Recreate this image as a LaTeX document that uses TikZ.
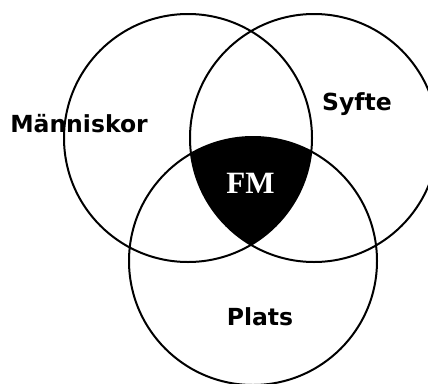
\documentclass[tikz,border=0pt]{standalone}
\usepackage{fontspec}
\usepackage{tikz}
\usetikzlibrary{positioning}
\newfontfamily\vennfont{DejaVu Sans}
\newfontfamily\fmfont{Liberation Serif}

\begin{document}
\begin{tikzpicture}[x=1pt, y=-1pt,
      ring/.style={draw, line width=2pt},
      lbl/.style={anchor=base, inner sep=0pt, font=\vennfont\bfseries\fontsize{23.5}{27}\selectfont}]
    \useasboundingbox (0,0) rectangle (428,383);
    \clip (0,0) rectangle (428,383);
    \coordinate (cM) at (188,138);
    \coordinate (cS) at (314,138);
    \coordinate (cP) at (253,261);
    % common part of the three circles
    \begin{scope}
      \clip (cM) circle[radius=124pt];
      \clip (cS) circle[radius=124pt];
      \fill[black] (cP) circle[radius=124pt];
    \end{scope}
    \draw[ring] (cM) circle[radius=124pt];
    \draw[ring] (cS) circle[radius=124pt];
    \draw[ring] (cP) circle[radius=124pt];
    \node[lbl] (manniskor) at (79,132) {Människor};
    \node[lbl] (syfte) at (357,110) {Syfte};
    \node[lbl] (plats) at (260,325) {Plats};
    \node[anchor=base, inner sep=0pt, text=white, font=\fmfont\bfseries\fontsize{31}{35}\selectfont] (fm) at (250.5,193) {FM};
  \end{tikzpicture}
\end{document}
